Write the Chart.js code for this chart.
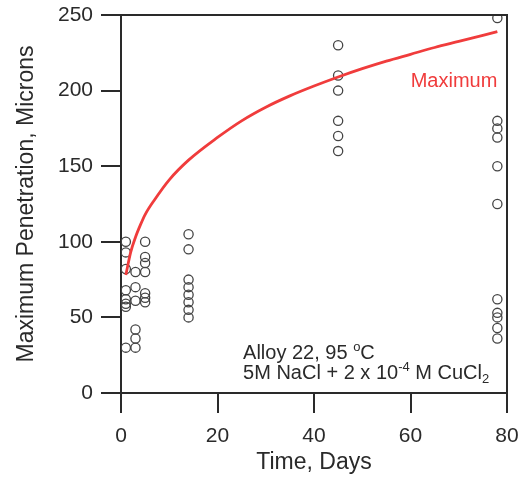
<!DOCTYPE html>
<html>
<head>
<meta charset="utf-8">
<script src="https://cdn.jsdelivr.net/npm/chart.js@4.4.1/dist/chart.umd.min.js"></script>
<style>
  html, body { margin: 0; padding: 0; background: #fff; }
  #wrap { width: 526px; height: 480px; }
</style>
</head>
<body>
<div id="wrap"><canvas id="c" width="526" height="480"></canvas></div>
<script>
// ---- data ----
const xTicks = [0, 20, 40, 60, 80];
const yTicks = [0, 50, 100, 150, 200, 250];
const exposureDays = [1, 3, 5, 14, 45, 78];
const penDay1  = [100, 93, 82, 68, 62, 59, 57, 30];
const penDay3  = [80, 70, 61, 42, 36, 30];
const penDay5  = [100, 90, 86, 80, 66, 63, 60];
const penDay14 = [105, 95, 75, 70, 65, 60, 55, 50];
const penDay45 = [230, 210, 200, 180, 170, 160];
const penDay78 = [248, 180, 175, 169, 150, 125, 62, 53, 50, 43, 36];
const maxCurveDays   = [1, 2, 3, 4, 5, 7, 10, 14, 20, 25, 30, 35, 40, 45, 50, 55, 60, 65, 70, 75, 78];
const maxCurveValues = [78, 93, 103, 111, 118, 128, 141, 154, 169, 180, 189, 196.5, 203, 209, 214.5, 219.5, 224, 228.5, 232.5, 236.5, 239];

const penByDay = [penDay1, penDay3, penDay5, penDay14, penDay45, penDay78];
const scatterPts = [];
exposureDays.forEach((d, i) => penByDay[i].forEach(v => scatterPts.push({x: d, y: v})));
const curvePts = maxCurveDays.map((d, i) => ({x: d, y: maxCurveValues[i]}));

const FONT = "'Liberation Sans', Arial, sans-serif";
const INK = '#2a2a2a';

const framePlugin = {
  id: 'frame',
  afterDatasetsDraw(chart) {
    const {ctx, chartArea: a, scales} = chart;
    ctx.save();
    ctx.strokeStyle = INK;
    ctx.lineWidth = 2;
    ctx.beginPath();
    ctx.moveTo(a.left, a.top);
    ctx.lineTo(a.right, a.top);
    ctx.lineTo(a.right, a.bottom);
    ctx.stroke();

    // "Maximum" label
    ctx.fillStyle = '#f03c3c';
    ctx.font = '20px ' + FONT;
    ctx.textBaseline = 'alphabetic';
    ctx.textAlign = 'right';
    ctx.fillText('Maximum', scales.x.getPixelForValue(78.0), scales.y.getPixelForValue(202.5));

    // annotation
    ctx.fillStyle = INK;
    ctx.textAlign = 'left';
    const x0 = scales.x.getPixelForValue(25.3);
    const y1 = scales.y.getPixelForValue(22.5);
    const y2 = scales.y.getPixelForValue(9.5);
    const big = '20px ' + FONT, small = '13px ' + FONT;
    let x = x0;
    ctx.font = big;
    let s = 'Alloy 22, 95 ';
    ctx.fillText(s, x, y1); x += ctx.measureText(s).width;
    ctx.font = small;
    ctx.fillText('o', x, y1 - 8); x += ctx.measureText('o').width;
    ctx.font = big;
    ctx.fillText('C', x, y1);

    x = x0;
    s = '5M NaCl + 2 x 10';
    ctx.fillText(s, x, y2); x += ctx.measureText(s).width;
    ctx.font = small;
    ctx.fillText('-4', x, y2 - 8); x += ctx.measureText('-4').width;
    ctx.font = big;
    s = ' M CuCl';
    ctx.fillText(s, x, y2); x += ctx.measureText(s).width;
    ctx.font = small;
    ctx.fillText('2', x, y2 + 4);
    ctx.restore();
  }
};

new Chart(document.getElementById('c'), {
  data: {
    datasets: [
      {
        type: 'scatter',
        label: 'Measured',
        data: scatterPts,
        pointRadius: 4.6,
        pointBorderWidth: 1.3,
        pointBorderColor: '#444',
        pointBackgroundColor: 'rgba(0,0,0,0)',
        order: 2
      },
      {
        type: 'line',
        label: 'Maximum',
        data: curvePts,
        borderColor: '#f03c3c',
        borderWidth: 2.8,
        pointRadius: 0,
        cubicInterpolationMode: 'monotone',
        fill: false,
        order: 1
      }
    ]
  },
  options: {
    responsive: false,
    animation: false,
    layout: { padding: { top: 15, right: 19, left: 0, bottom: 0 } },
    plugins: { legend: { display: false }, tooltip: { enabled: false } },
    scales: {
      x: {
        type: 'linear',
        min: 0, max: 80,
        afterFit(s) { s.height = 87; s.paddingLeft = 0; s.paddingRight = 0; },
        afterBuildTicks(s) { s.ticks = xTicks.map(v => ({value: v})); },
        ticks: { font: { size: 21, family: FONT }, color: INK, padding: 11 },
        grid: { display: true, drawOnChartArea: false, drawTicks: true, tickLength: 20, color: INK, lineWidth: 2 },
        border: { display: true, color: INK, width: 2 },
        title: { display: true, text: 'Time, Days', font: { size: 23, family: FONT }, color: INK, padding: { top: 0, bottom: 4 } }
      },
      y: {
        type: 'linear',
        min: 0, max: 250,
        afterFit(s) { s.width = 121; s.paddingTop = 0; s.paddingBottom = 0; },
        afterBuildTicks(s) { s.ticks = yTicks.map(v => ({value: v})); },
        ticks: { font: { size: 21, family: FONT }, color: INK, padding: 8 },
        grid: { display: true, drawOnChartArea: false, drawTicks: true, tickLength: 20, color: INK, lineWidth: 2 },
        border: { display: true, color: INK, width: 2 },
        title: { display: true, text: 'Maximum Penetration, Microns', font: { size: 23, family: FONT }, color: INK, padding: { top: 13, bottom: 0 } }
      }
    }
  },
  plugins: [framePlugin]
});
</script>
</body>
</html>
